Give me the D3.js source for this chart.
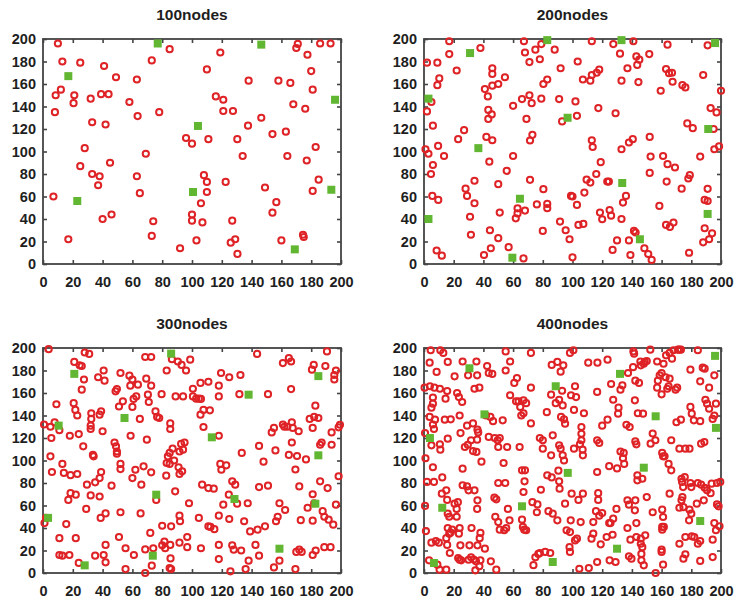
<!DOCTYPE html>
<html>
<head>
<meta charset="utf-8">
<script src="https://cdn.jsdelivr.net/npm/d3@7"></script>
<style>
html,body{margin:0;padding:0;background:#fff;}
svg{display:block;font-family:"Liberation Sans",Arial,sans-serif;}
</style>
</head>
<body>
<svg id="chart" width="740" height="601"></svg>
<script>
// ---------- DATA ----------
const titles = ["100nodes", "200nodes", "300nodes", "400nodes"];
const tickValues = [0, 20, 40, 60, 80, 100, 120, 140, 160, 180, 200];

const nodes100 = [[10,196],[13,180],[25,179],[12,155],[8.5,150],[8,135],[21,150],[20.5,143],[32,147],[39,151],[44,151],[41,176],[49,166],[33,126],[42,124],[28,103],[25,87],[33,80],[38,78],[37,70],[45,90],[7,60],[40,40],[46,44],[17,22],[58,144],[63,164],[63.5,131.5],[63,78],[65,63],[69,98],[73,181],[78,135],[85,191],[74,38],[73,25],[92,14],[96,112],[100,107],[100,44],[100,38.5],[103,21],[106,54],[107,37],[108,79],[110,73],[110,64],[110,173],[111,111],[116,149],[119,188],[121,146],[121,136],[127.5,136],[122.6,73],[127,38.5],[126,19],[129,22],[130.5,9],[130.4,111],[134,96],[137.6,123],[138,163],[146.5,130],[149,68],[154,115.5],[156.6,55],[154,45.6],[158,163],[160,21],[163,117.6],[164,96],[166,161],[168,142],[171,195.6],[170,192],[177.5,186],[180,171.5],[181,155],[176,138],[177,92],[183,104],[181,65],[185,75],[174.5,26],[175,24],[186,196],[193,196]];
const sinks100 = [[77,196],[146.5,195],[17,167],[196,146],[104,122.7],[100.7,64],[23,56],[193.5,66],[169,13]];

const nodes200 = [[17,198],[17,186.6],[2,179],[9,179],[9,159],[10.3,165],[22,172],[5,144],[2,135.6],[6,123],[9.5,105],[13.5,96],[1,102],[3,98],[6,88],[4.7,80],[5.6,60.5],[9.6,57],[8.5,12],[12,7.4],[23,111],[27,119],[28,67],[29,60.5],[34,74],[34,54],[31,42],[31.6,26],[38,192],[41,155.5],[43,149],[46,174],[46,169],[43.3,137],[45.6,133],[43.3,129],[42,113],[46,110],[44,91],[46,158.5],[50,160],[54.5,166],[50,71],[51,45.7],[50,23],[44.4,30],[45,14],[40.4,8],[55.7,82.8],[57,15],[60,140.6],[60,96],[61.8,40.6],[63,49.5],[63,45],[67.3,198],[68,188],[66,146.6],[69,129],[71,150],[72.5,143],[71.4,109.8],[73,114.8],[71,179.5],[75,190.5],[71.4,74.8],[68,47.5],[67,5],[76,53],[78,182],[79,195.5],[79,147],[80.4,160],[83,164],[80.4,66.5],[80,29.4],[83,53.4],[83,49.6],[88,190.5],[92,174],[91,146.6],[93,126.7],[91.6,37.7],[95.4,30],[98,22],[99,60.5],[100,60],[103,52.5],[102,144.5],[103,131.7],[104,34.7],[107.3,35.6],[103.5,180],[107,164],[108,63.5],[109.5,75],[112,72.4],[100,5.9],[112,163],[113,168],[116.3,170],[118,172.7],[113,198],[113,110],[113.6,104],[117.4,138.6],[116,80],[119,90.5],[118.5,45.7],[120,39.8],[123.4,73.3],[124.5,73.3],[125,48],[126,43],[127,12.5],[130,21],[127.5,195.5],[129,134],[132,187],[133,163],[133,102],[134,54.6],[136,60.5],[133,40],[137,174],[141,198],[143,184.5],[143.6,177],[145,181.6],[144.4,161.7],[140.6,111],[138,108],[138,21],[139,8],[141.4,29.4],[142.5,28],[148.4,14],[151,8.9],[153.3,3.6],[151.7,186.6],[152,113],[152.6,95.5],[152,81],[158.5,51.6],[159.4,154],[161,96],[163,173.3],[164,195],[165,169.6],[167,170],[167.4,162],[164,88.7],[169,85.8],[163.4,73.3],[163,34.7],[165.6,33],[168,36.8],[173.5,67],[174,159],[176,157],[177.3,125],[181,120.7],[178,76],[179,79],[178.5,10],[186,95.5],[188,168],[189,57],[191,66.8],[191,56],[189,31.8],[188,19.3],[192,22],[194,27.3],[191,194.4],[193,138.6],[197,134.7],[195,120],[195.5,102],[198.7,104.5],[200,154]];
const sinks200 = [[83,199],[133,199],[196,196.4],[31,187.5],[3,147],[96.7,130],[191.4,120],[36.6,103],[133.5,72],[64.6,58],[3,40],[191,44.5],[145.4,22],[59.5,5.6]];

const nodes300 = [[3.8,199],[21,187.6],[24.6,184.6],[26,184],[28,196],[31,194.7],[27.5,172],[26,163],[20.6,151],[21.7,145],[23,140],[9,150],[7.8,134],[5,130],[5.6,120],[5,103.7],[6,89.8],[0.7,132],[11,127],[18,122],[24,123.5],[13,97],[14,89],[18.5,87],[23,88],[18.5,71],[22,69.6],[17,65],[15.6,43.5],[11,31],[11,16],[13,15.4],[17.7,16],[22,31],[24,9],[1,44.4],[2,49],[29,57],[27,112.6],[29.5,78.5],[32,69],[32.4,142],[32.4,137],[32,131],[32,128],[33.5,105],[34,103.7],[35,80.6],[38,84.4],[39,89.8],[37,174],[40.7,180],[41.3,171],[38,140.7],[39,143.7],[40,126],[38,68],[38.7,49],[42,53],[42,25],[40.7,16],[42,9.5],[35,15.4],[46,77.6],[48.7,161.5],[49.6,163.5],[52,177.8],[53.6,152.6],[51,148],[48,116],[49,112.6],[49.6,108],[49.6,106],[52,97],[52,92.4],[52,54],[51,32],[55.4,22],[55.4,3.5],[58,175.4],[58.6,166.5],[60,172],[62.6,157],[60.8,154.7],[60,147.6],[58.8,122],[60,84.4],[62,91.8],[61,16],[63.7,167.4],[65,137],[66,78.5],[65.5,53],[67.5,94.8],[68.6,21],[68.6,0],[68.6,192],[72.6,192],[69.3,172.7],[70.4,158.5],[71,152],[72.6,166.5],[69.7,118.5],[72.6,89.5],[72,35.6],[73,6.5],[74,22],[75.5,143.7],[76.6,138.7],[78,137.8],[76,65],[79.6,159],[80,42],[80,24.6],[81.5,28],[82,22],[83,180],[82.7,86.5],[83,97.8],[83.8,103.7],[85,106.7],[85,97],[85.4,133],[85.4,128],[86.5,190],[87,110.5],[88,100],[88.7,72.6],[86,41.5],[85.4,25],[85.6,13],[85,4.4],[86,3.5],[89,157],[90.5,188],[91,94],[91.6,88],[93,185],[91.6,108],[92.7,114.7],[95,116],[94,109.6],[93.4,90.4],[92,46],[91.6,51],[94,157],[91.6,27],[96,180],[96.8,32],[96.8,23],[98,62],[98.8,189.6],[100.6,163.8],[100.6,157],[102.8,155],[104.6,155],[105.7,169],[106,154.7],[105.7,140.7],[107.7,145],[107.7,129.8],[104.6,49],[106.8,78.5],[106,22],[111,170],[111,75.5],[114.6,75],[112,144.6],[111,41.5],[112.4,41],[115,39],[118,166.5],[119.5,177.8],[118,157],[118,122],[119,97],[119.7,91.8],[123,95.7],[118,51],[118,25],[118,12.4],[121,60.7],[125,174],[124.7,69.6],[125,48],[127,81.5],[129,78.5],[125.8,1.5],[127,24.6],[128,20.7],[130.3,61.6],[131.8,159],[132.5,176],[133,20],[133.4,106.7],[135,46],[136,3.5],[137.4,62],[138,11],[139,37],[144,38.5],[142.6,25],[145,113],[145,76.4],[145,15.4],[143.7,194.7],[148,99],[149,41.5],[151,77.6],[151,159],[153.5,125],[155,129],[156,109],[156.4,46],[157.5,50],[158.7,62],[158.7,11],[155,5],[161,186.6],[161,132],[162,130],[162.5,56],[165,191],[166.5,188],[167,134],[165,105],[167,116],[166.5,163.5],[167.6,129],[164,130],[169.4,92],[170.5,104],[172,77],[171.6,126],[173,47],[170,18.7],[172,20.7],[173.6,18.7],[169.4,3.5],[176.5,101],[177.6,58],[179,137],[180.5,180.7],[181.7,185],[182.8,148.7],[182,138.7],[181,129],[181,70],[182,62],[181,46.5],[181,16],[183,20],[184.8,137.8],[187,116],[186,114],[186,81.5],[189.5,184],[190.6,197],[187.7,55],[188.8,23],[193,23],[188.8,50],[191.7,47.4],[191,75.5],[193.7,114],[193.7,125],[194.8,43],[195.5,172],[195.5,176],[196.6,180],[198.4,129.5],[199.3,131.8],[196.6,60.7],[198.4,86]];
const sinks300 = [[86,195],[21,177],[184.8,175],[138,158.5],[54.7,137.8],[10.5,131],[113.3,120.6],[184.8,104.6],[76,69.6],[128.5,65.8],[182.8,61.6],[3.4,49],[158.7,21.6],[73.7,15.4],[28,6.8]];

const nodes400 = [[4.5,198],[3.8,187],[11,198],[13,195.6],[8.5,178.7],[0.4,164.7],[4,166],[7,164.7],[10.7,163.8],[6,156],[6,150.5],[5,147],[3.8,138.7],[7.4,136.3],[6,132],[6.7,128],[0.7,124.4],[5,113.5],[10.7,114.4],[11,109.6],[1,102],[6,94],[2,81],[6.7,81],[12.3,85],[0.7,59.6],[1.3,37.3],[5,27],[8,28.4],[10,27],[3.4,11.3],[9,7.4],[10.5,3],[15,3],[15.6,161.8],[16,187.6],[14.5,155],[14,136.3],[18,136.6],[16,119.4],[15,73.5],[12,70.5],[15.6,65],[16,52.7],[17,50],[16,40],[17,35],[15,31],[15.6,25],[17.4,17.8],[18,36],[19,38.5],[20.6,174.8],[22.3,160],[23.5,156.4],[25.7,152],[24,140],[24.6,124.4],[26,188],[29.7,175.7],[35.8,175.7],[35.3,188],[34,163.8],[37.3,164.7],[33,133],[29,131],[36,127.4],[36.5,125],[29.5,114],[31.7,118],[27.5,112],[35.8,118.5],[35.3,107.6],[33,108.4],[38.7,99],[26,92.7],[26,78],[29,77],[30,73.5],[34,73.5],[36,64.6],[35.8,57],[22.8,63],[20.6,61.6],[22,57],[22,50],[24,40],[23.5,35],[24.5,24.6],[25,11.3],[24,11.8],[23,13.3],[30,11.8],[31.7,14],[33.5,12],[35,10.4],[38,11.3],[37.3,6],[34.6,2.4],[30.6,24.6],[36,24.6],[32,40],[38,35.6],[37.5,31],[41,21.6],[42.5,184],[43.6,177.8],[46,177],[41.8,140],[44.7,138.7],[46.5,135],[43.6,121],[47.6,120],[49.6,118],[51,120],[50,112],[47.4,67],[48.7,65.5],[48,50],[50,45.3],[51,38.5],[45,10.4],[48.7,3],[50,80],[54.7,80],[53.6,97.8],[53,135.7],[56,112],[55,180],[55,197],[58,188],[58,158],[56.5,57],[57.6,46.8],[54,38],[55.4,40],[60.8,169],[62.6,173.3],[63.7,152.6],[64.8,147.6],[65.5,140],[67,142],[68.8,151],[62,152.6],[67,153.5],[64.4,112],[68,91.3],[67.7,81.5],[67,72],[66,91.3],[66,47.4],[66.6,41],[67.5,38.5],[68.8,38],[72,195.6],[72,164.7],[72,133],[73,63],[76.4,61],[76,54],[75,14],[73.7,7],[77,17],[78,17.8],[78,120],[80,118],[78.7,74],[80,110.5],[82.7,143],[83,86.8],[86,185],[86,85],[85.6,158.5],[86.7,122.4],[85.6,104.6],[83.8,55],[86.7,52.7],[81.6,18.7],[85,17.8],[89.8,187.6],[92,179],[93.8,184.6],[93,162],[88.7,151],[91,154],[93.4,149],[92.3,138.7],[91,113.5],[92,110.5],[93.4,104.6],[94.3,100],[91,81.5],[90.5,91],[91.3,75],[89.8,46.8],[95,61.6],[94.3,136.6],[95,132.7],[98.3,195.6],[99,158],[98.8,46.8],[98.3,36.4],[98,23],[98.3,18.7],[96,38],[100.6,198],[101.7,166],[102.4,156.4],[101,145],[101,110.5],[101.7,29],[103,30.5],[104,65],[99.4,70.5],[106,129.8],[106,123.8],[106,118],[105,114.4],[106.8,109.6],[107,104.6],[107.7,142],[107,70.5],[105.5,45.3],[104.6,3.8],[110.6,187],[111,4.4],[116.8,187],[116.6,161],[116.6,118],[118,115.6],[116.6,89.8],[117.3,71],[117.3,65],[114,45.3],[115.8,55],[112.8,30.5],[114,35],[118,51],[119,25.5],[116.6,9.8],[120,131],[120,53.3],[123.6,189.6],[123.6,136.3],[124.7,95],[126,168],[127.4,154],[130,93],[127.4,48.3],[124.7,44.4],[125.6,44.4],[127,34],[123,32],[125,11.3],[129,9.8],[129.6,57],[130.7,141.6],[131,147],[132.3,163],[133.6,166.8],[132.3,108],[134.5,106.7],[134,102],[134.8,97],[136.3,131.8],[138.5,129.8],[137.4,177.8],[137,64.6],[138,60.7],[137,40],[139,29.6],[138,14.8],[139.7,12.7],[141,197],[141.5,195],[140.8,183],[142.3,171],[144.8,169],[145.7,188],[146,184.6],[148,186],[148.6,187.6],[150,188.4],[152.4,198.5],[142,153.5],[144,142],[147.5,141.6],[142.3,117],[143,114.4],[143.7,82.4],[147,83.8],[143.7,86.8],[142.3,64.6],[142,55.7],[143,44.4],[143,32],[146,30.5],[146,26],[147,23],[149,33.5],[146.4,17],[146.4,11.3],[148,6.8],[150,67.5],[154,124],[152.6,115],[155.8,118],[154,54],[157,188],[157.5,171],[160,158.8],[157,164.7],[160,177.8],[158.7,175.7],[160.4,106.7],[161,103.7],[160.4,56.3],[161,49.8],[160.4,41],[161.5,41],[160.4,38.5],[160,20.7],[160,18.7],[161,7.4],[156,0],[161.3,186],[163,193.5],[165.4,195.6],[167,190.5],[168,198],[171,198.5],[172,198.5],[173,198.5],[162.7,174],[165.4,172.7],[163.8,163.8],[169.4,163],[170.5,164.7],[164.7,166],[162,103.7],[166.5,118],[164.7,97],[166.5,91.3],[165.4,70.5],[173,136.3],[170,134],[172,110.5],[176,110.5],[173.4,83.8],[173.8,81],[174.5,76.4],[175.6,85.3],[174,67.5],[173.4,64.6],[172,58],[174.7,58.6],[172,26],[176,32],[176,16.6],[174.7,12.7],[179.4,180.7],[179.4,147.6],[180.3,141.6],[181.7,135.7],[178.8,110.5],[179.4,80],[180,76.4],[178.8,56.3],[180,52.7],[178.5,46.8],[180.3,32.6],[182,32],[184.4,198],[186,170.4],[187.7,182.5],[189,181.6],[189.5,154],[190.6,150.5],[192,146],[192,164.7],[186,135],[186.6,115],[188.8,116.4],[194.4,137],[195.5,140],[195.5,175.7],[196.6,150.5],[184.4,80],[186.6,78.5],[189,75.8],[190.6,73.5],[193.7,79.4],[197.3,80],[199.5,81],[193,71],[197.3,61],[198.4,59.3],[188.4,64.6],[183.7,61.6],[195.5,44.4],[199,41.5],[196.6,38],[194.4,29.6],[186,28.4],[184.4,26],[186,10.7],[194.4,14.2]];
const sinks400 = [[196,193],[30.6,182],[132,177],[88.7,166],[40.7,141],[156,139.3],[196.6,129],[4,120],[148,93.6],[96.8,89],[12.3,58],[66,59.3],[186,46.2],[130,21.6],[86.7,9.8],[6.7,8.9]];

const nodeSets = [nodes100, nodes200, nodes300, nodes400];
const sinkSets = [sinks100, sinks200, sinks300, sinks400];

// ---------- LAYOUT ----------
const layout = [
  {left: 43, right: 341, top: 39, bottom: 264},
  {left: 424, right: 721, top: 39, bottom: 264},
  {left: 43, right: 341, top: 348, bottom: 573},
  {left: 424, right: 721, top: 348, bottom: 573}
];
const frameColor = "#444444";
const redColor = "#de2226";
const greenColor = "#62b732";

const svg = d3.select("#chart");

titles.forEach((title, i) => {
  const L = layout[i];
  const x = d3.scaleLinear().domain([0, 200]).range([L.left, L.right]);
  const y = d3.scaleLinear().domain([0, 200]).range([L.bottom, L.top]);
  const g = svg.append("g");

  // frame
  g.append("rect")
    .attr("x", L.left).attr("y", L.top)
    .attr("width", L.right - L.left).attr("height", L.bottom - L.top)
    .attr("fill", "none").attr("stroke", frameColor).attr("stroke-width", 1.8);

  const styleAxis = sel => {
    sel.select(".domain").remove();
    sel.selectAll(".tick line").attr("stroke", frameColor).attr("stroke-width", 1.6);
    sel.selectAll(".tick text")
      .attr("fill", "#1e1e1e")
      .style("font-size", "14.5px")
      .style("font-weight", "bold")
      .style("font-family", "'Liberation Sans', Arial, sans-serif");
  };

  g.append("g").attr("transform", `translate(0,${L.bottom})`)
    .call(d3.axisBottom(x).tickValues(tickValues).tickSizeInner(-4).tickSizeOuter(0).tickPadding(13))
    .call(styleAxis);
  g.append("g").attr("transform", `translate(${L.left},0)`)
    .call(d3.axisLeft(y).tickValues(tickValues).tickSizeInner(-4).tickSizeOuter(0).tickPadding(7))
    .call(styleAxis);
  g.append("g").attr("transform", `translate(0,${L.top})`)
    .call(d3.axisTop(x).tickValues(tickValues).tickSizeInner(-4).tickSizeOuter(0).tickFormat(""))
    .call(styleAxis);
  g.append("g").attr("transform", `translate(${L.right},0)`)
    .call(d3.axisRight(y).tickValues(tickValues).tickSizeInner(-4).tickSizeOuter(0).tickFormat(""))
    .call(styleAxis);

  // title
  g.append("text")
    .attr("x", (L.left + L.right) / 2)
    .attr("y", L.top - 19)
    .attr("text-anchor", "middle")
    .attr("fill", "#1e1e1e")
    .style("font-size", "15.5px")
    .style("font-weight", "bold")
    .text(title);

  // sensor nodes
  g.append("g").selectAll("circle")
    .data(nodeSets[i]).join("circle")
    .attr("cx", d => x(d[0])).attr("cy", d => y(d[1]))
    .attr("r", 3.1)
    .attr("fill", "none")
    .attr("stroke", redColor).attr("stroke-width", 2);

  // sinks / anchors
  const s = 8;
  g.append("g").selectAll("rect")
    .data(sinkSets[i]).join("rect")
    .attr("x", d => x(d[0]) - s / 2).attr("y", d => y(d[1]) - s / 2)
    .attr("width", s).attr("height", s)
    .attr("fill", greenColor);
});
</script>
</body>
</html>
